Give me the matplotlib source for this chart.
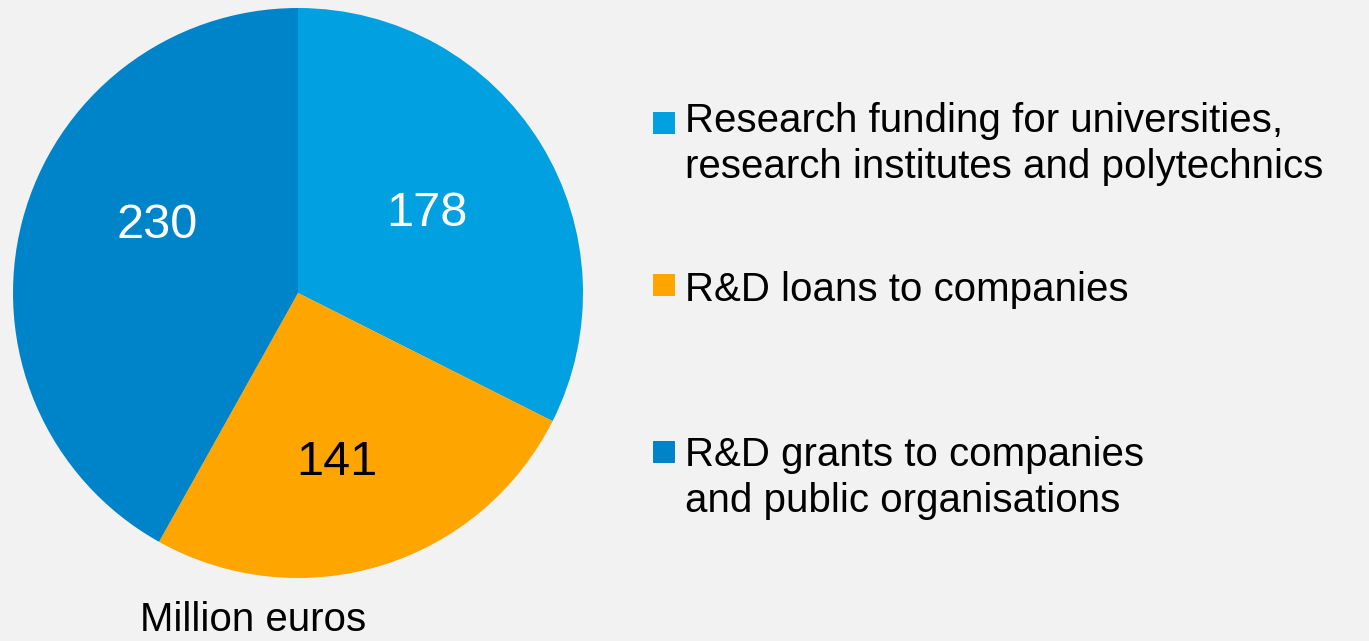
import numpy as np
import matplotlib.pyplot as plt
from matplotlib.patches import Rectangle

plt.rcParams['font.family'] = ['Liberation Sans', 'DejaVu Sans']

labels = ["Research funding for universities,\nresearch institutes and polytechnics",
          "R&D loans to companies",
          "R&D grants to companies\nand public organisations"]
values = [178, 141, 230]
colors = ["#00a0e1", "#ffa500", "#0084c9"]
text_colors = ["white", "black", "white"]
bg = "#f2f2f2"

# label placement tweaks (angle offset in degrees, radius)
label_shift = [(0, 0.53), (-4, 0.61), (-11, 0.55)]

fig = plt.figure(figsize=(13.69, 6.41), dpi=100, facecolor=bg)
ax = fig.add_axes([13/1369, 63/641, 570/1369, 570/641])
ax.set_facecolor(bg)

wedges, texts = ax.pie(values, colors=colors, startangle=90, counterclock=False,
                       labels=[str(v) for v in values], labeldistance=0.54,
                       wedgeprops=dict(linewidth=0))
for w, t, c, (da, r) in zip(wedges, texts, text_colors, label_shift):
    ang = np.deg2rad((w.theta1 + w.theta2) / 2 + da)
    t.set_position((r * np.cos(ang), r * np.sin(ang)))
    t.set_color(c)
    t.set_fontsize(35)
    t.set_ha('center')
    t.set_va('center')
ax.set_aspect('equal')
ax.set_xlim(-1, 1)
ax.set_ylim(-1, 1)
ax.axis('off')

fig.text(253/1369, 1 - 620/641, "Million euros", ha='center', va='center', fontsize=29)

# legend
tops = [112, 274, 441]
text_tops = [102, 271, 436]
for lab, col, top, tt in zip(labels, colors, tops, text_tops):
    fig.patches.append(Rectangle((653/1369, 1 - (top + 22)/641), 22/1369, 22/641,
                                 transform=fig.transFigure, facecolor=col, edgecolor='none'))
    fig.text(685/1369, 1 - tt/641, lab, ha='left', va='top', fontsize=29,
             linespacing=1.26)

fig.savefig("out.png", dpi=100, facecolor=bg)
